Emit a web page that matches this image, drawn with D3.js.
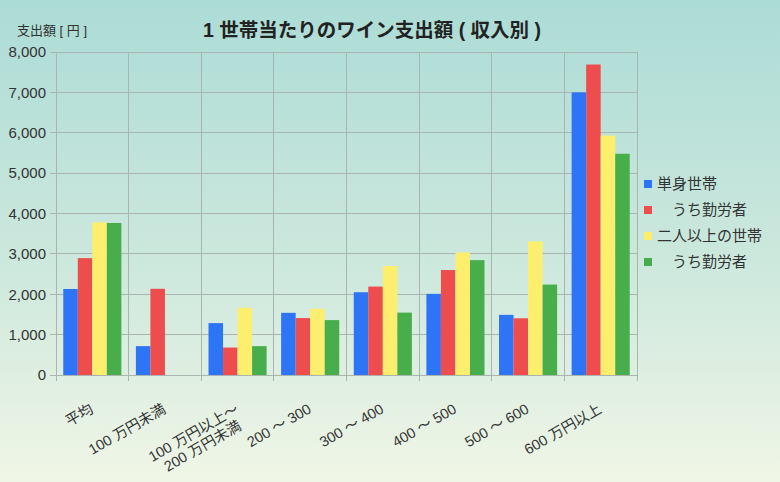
<!DOCTYPE html>
<html><head><meta charset="utf-8">
<script src="https://cdn.jsdelivr.net/npm/d3@7"></script>
<style>
html,body{margin:0;padding:0;}
body{width:780px;height:482px;overflow:hidden;}
text{font-family:"Liberation Sans","Noto Sans CJK JP",sans-serif;}
</style></head>
<body>
<svg id="c" width="780" height="482"></svg>
<script>
const categories = ["平均","100 万円未満","100 万円以上～\n200 万円未満","200 ～ 300","300 ～ 400","400 ～ 500","500 ～ 600","600 万円以上"];
const seriesNames = ["単身世帯","　うち勤労者","二人以上の世帯","　うち勤労者"];
const single = [2130,715,1285,1540,2050,2010,1490,7000];
const singleWorker = [2895,2135,680,1410,2190,2600,1405,7690];
const multi = [3780,0,1665,1640,2700,3035,3310,5930];
const multiWorker = [3765,0,715,1360,1545,2845,2240,5480];
const yTicks = [0,1000,2000,3000,4000,5000,6000,7000,8000];
const colors = ["#2e74f6","#ee4d4d","#fdee6e","#48ae4c"];

const series = [single, singleWorker, multi, multiWorker];
const svg = d3.select("#c");
const W = 780, H = 482;
const m = {left:56, right:143, top:52, bottom:107};

const defs = svg.append("defs");
const g0 = defs.append("linearGradient").attr("id","bg").attr("x1","0").attr("y1","0").attr("x2","0").attr("y2","1");
g0.append("stop").attr("offset","0%").attr("stop-color","#acdcd6");
g0.append("stop").attr("offset","55%").attr("stop-color","#cde8dd");
g0.append("stop").attr("offset","100%").attr("stop-color","#f0f6e6");
svg.append("rect").attr("width",W).attr("height",H).attr("fill","url(#bg)");

const x = d3.scaleBand().domain(categories).range([m.left, W - m.right]).paddingInner(0).paddingOuter(0);
const y = d3.scaleLinear().domain([0,8000]).range([H - m.bottom, m.top]);
const xs = d3.scaleBand().domain(d3.range(series.length)).range([0, x.bandwidth()]).paddingOuter(0.5).paddingInner(0);

// horizontal grid
svg.append("g").selectAll("line").data(yTicks).join("line")
  .attr("x1", m.left - 6).attr("x2", W - m.right)
  .attr("y1", d => y(d)).attr("y2", d => y(d))
  .attr("stroke","#aab5b2").attr("stroke-width",1).attr("shape-rendering","crispEdges");
// vertical grid
const bounds = categories.map(c => x(c)).concat([W - m.right]);
svg.append("g").selectAll("line").data(bounds).join("line")
  .attr("x1", d => d).attr("x2", d => d)
  .attr("y1", m.top).attr("y2", H - m.bottom + 6)
  .attr("stroke","#aab5b2").attr("stroke-width",1).attr("shape-rendering","crispEdges");

// bars
series.forEach((s, si) => {
  svg.append("g").selectAll("rect").data(s).join("rect")
    .attr("x", (d,i) => x(categories[i]) + xs(si))
    .attr("width", xs.bandwidth())
    .attr("y", d => y(d))
    .attr("height", d => y(0) - y(d))
    .attr("fill", colors[si]);
});

// y axis labels
svg.append("g").selectAll("text").data(yTicks).join("text")
  .attr("x", 46).attr("y", d => y(d)).attr("dy","0.35em")
  .attr("text-anchor","end").attr("font-size",15).attr("fill","#333")
  .text(d => d3.format(",")(d));

// x labels
categories.forEach((c) => {
  const cx = x(c) + x.bandwidth()/2;
  const lines = c.split("\n");
  const t = svg.append("text")
    .attr("transform", `translate(${cx + 2},${H - m.bottom + 37}) rotate(-30)`)
    .attr("text-anchor","end").attr("font-size",14.5).attr("fill","#333");
  lines.forEach((ln, li) => {
    t.append("tspan").attr("x", li === 0 ? 0 : -6).attr("y", 0).attr("dy", (li*1.1) + "em").text(ln);
  });
});

// titles
svg.append("text").attr("x", 372).attr("y", 37).attr("text-anchor","middle")
  .attr("font-size",19.5).attr("font-weight","bold").attr("fill","#222")
  .text("1 世帯当たりのワイン支出額 ( 収入別 )");
svg.append("text").attr("x", 17).attr("y", 35)
  .attr("font-size",13).attr("fill","#333").text("支出額 [ 円 ]");

// legend
const lg = svg.append("g");
seriesNames.forEach((n, i) => {
  const yy = 184 + i * 26;
  lg.append("rect").attr("x", 644).attr("y", yy - 4).attr("width", 8).attr("height", 8).attr("fill", colors[i]);
  lg.append("text").attr("x", 657).attr("y", yy).attr("dy","0.35em")
    .attr("font-size",15).attr("fill","#333").text(n);
});
</script>
</body></html>
